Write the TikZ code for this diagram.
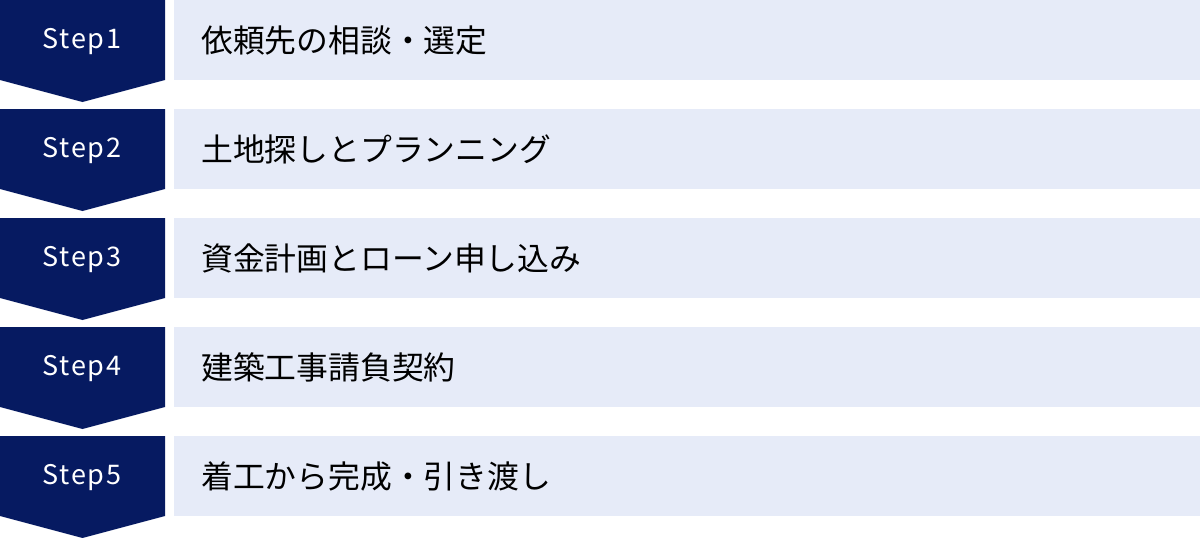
\documentclass[tikz,border=0pt]{standalone}
\usepackage{fontspec}
\setmainfont{Noto Sans CJK JP}
\usetikzlibrary{positioning,calc}

\definecolor{stepnavy}{HTML}{061A61}
\definecolor{tasklight}{HTML}{E6EBF8}

\tikzset{
  steplabel/.style={text=white, inner sep=0pt,
    font=\fontsize{27}{32}\selectfont\addfontfeature{LetterSpace=6}},
  tasklabel/.style={anchor=west, inner sep=0pt, text=black,
    font=\fontsize{31.8}{36}\selectfont}
}

\begin{document}
\begin{tikzpicture}[x=1pt,y=1pt]
  \useasboundingbox (0,0) rectangle (1200,-538);
  \foreach \i/\task in {1/依頼先の相談・選定, 2/土地探しとプランニング,
      3/資金計画とローン申し込み, 4/建築工事請負契約,
      5/着工から完成・引き渡し} {
    % one row: chevron on the left, bar on the right
    \coordinate (row\i) at (0,{-(\i-1)*109});
    \fill[stepnavy] (row\i) -- ++(165,0) -- ++(0,-80) -- ++(-82.5,-22)
      -- ++(-82.5,22) -- cycle;
    \fill[tasklight] ($(row\i)+(174,0)$) rectangle ($(row\i)+(1200,-80)$);
    \node[steplabel] (step\i) at ($(row\i)+(82,-42)$) {Step\i};
    \node[tasklabel] (task\i) at ($(row\i)+(201,-40)$) {\task};
  }
\end{tikzpicture}
\end{document}
